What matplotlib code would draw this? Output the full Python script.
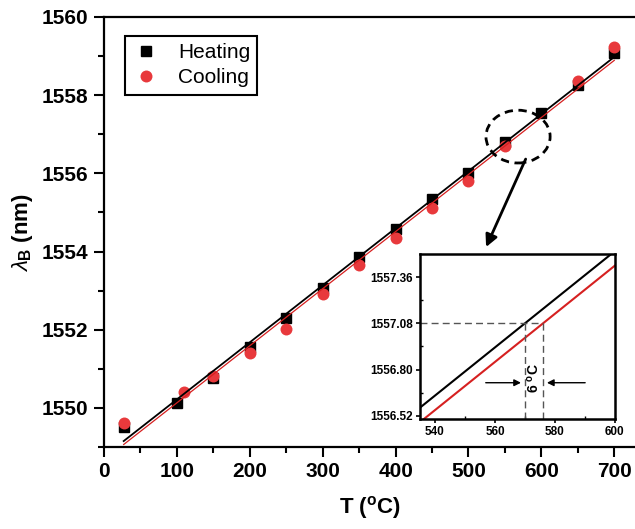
import matplotlib
matplotlib.use("Agg")
import matplotlib.pyplot as plt
import numpy as np
from matplotlib.patches import Ellipse
from matplotlib.ticker import MultipleLocator

plt.rcParams['font.family'] = ['Liberation Sans', 'DejaVu Sans']
plt.rcParams['mathtext.fontset'] = 'custom'
plt.rcParams['mathtext.rm'] = 'Liberation Sans'
plt.rcParams['mathtext.it'] = 'Liberation Sans:italic'
plt.rcParams['mathtext.bf'] = 'Liberation Sans:bold'

# Measured Bragg wavelength vs temperature
heat_T = [27, 100, 150, 200, 250, 300, 350, 400, 450, 500, 550, 600, 650, 700]
heat_wl = [1549.50, 1550.12, 1550.77, 1551.55, 1552.29, 1553.07, 1553.86,
           1554.57, 1555.35, 1556.00, 1556.79, 1557.55, 1558.26, 1559.09]
cool_T = [27, 110, 150, 200, 250, 300, 350, 400, 450, 500, 550, 650, 700]
cool_wl = [1549.62, 1550.40, 1550.81, 1551.40, 1552.02, 1552.92, 1553.66,
           1554.34, 1555.11, 1555.81, 1556.71, 1558.35, 1559.24]

# Linear fits (slope nm/degC, intercept nm)
fit_slope = 0.0146
heat_icpt = 1548.758
cool_icpt = 1548.670
fit_range = [27, 700]

# Inset markers
level_wl = 1557.08
heat_cross = 570.0
cool_cross = 576.0

RED = '#e8393c'
LRED = '#d62020'

fig = plt.figure(figsize=(6.35, 5.29), dpi=100)
ax = fig.add_axes([0.1638, 0.155, 0.838, 0.8129])

ax.plot(heat_T, heat_wl, 's', color='black', ms=7.2, label='Heating', zorder=3)
ax.plot(cool_T, cool_wl, 'o', color=RED, ms=8.6, mec='none', label='Cooling', zorder=3)

xf = np.array(fit_range, dtype=float)
ax.plot(xf, heat_icpt + fit_slope * xf, color='black', lw=1.3, zorder=4)
ax.plot(xf, cool_icpt + fit_slope * xf, color=LRED, lw=0.9, zorder=4)

ax.set_xlim(0, 730)
ax.set_ylim(1549, 1560)
ax.xaxis.set_major_locator(MultipleLocator(100))
ax.xaxis.set_minor_locator(MultipleLocator(50))
ax.yaxis.set_major_locator(MultipleLocator(2))
ax.yaxis.set_minor_locator(MultipleLocator(1))
ax.tick_params(which='major', direction='out', length=7, width=1.5,
               labelsize=15, pad=4)
ax.tick_params(which='minor', direction='out', length=4, width=1.5)
for lab in ax.get_xticklabels() + ax.get_yticklabels():
    lab.set_fontweight('bold')
for s in ax.spines.values():
    s.set_linewidth(1.6)

ax.set_xlabel(r'T ($\mathbf{^o}$C)', fontsize=16, fontweight='bold', labelpad=9)
ax.set_ylabel(r'$\lambda_\mathbf{B}$ (nm)', fontsize=16, fontweight='bold', labelpad=5)

leg = ax.legend(loc='upper left', bbox_to_anchor=(0.039, 0.956), borderaxespad=0,
                fancybox=False, edgecolor='black', fontsize=15, handletextpad=0.85,
                borderpad=0.35, labelspacing=0.3, handlelength=1.35, framealpha=1)
leg.get_frame().set_linewidth(1.5)

# Highlighted region and pointer to the zoomed view
ax.add_patch(Ellipse((568, 1556.94), 88, 1.35, fill=False, ls=(0, (3, 2)),
                     lw=2, color='black', zorder=5))
ax.annotate('', xy=(522.6, 1554.05), xytext=(580, 1556.43),
            arrowprops=dict(arrowstyle='-|>', color='black', lw=2,
                            mutation_scale=18), zorder=5)

# Inset
ins = fig.add_axes([0.6614, 0.2079, 0.307, 0.3119])
xi = np.array([535, 600], dtype=float)
ins.plot(xi, heat_icpt + fit_slope * xi, color='black', lw=1.5)
ins.plot(xi, cool_icpt + fit_slope * xi, color=LRED, lw=1.5)
ins.set_xlim(535, 600)
ins.set_ylim(1556.50, 1557.50)
ins.set_xticks([540, 560, 580, 600])
ins.set_yticks([1556.52, 1556.80, 1557.08, 1557.36])
ins.set_yticklabels(['1556.52', '1556.80', '1557.08', '1557.36'])
ins.xaxis.set_minor_locator(MultipleLocator(10))
ins.set_yticks([1556.66, 1556.94, 1557.22], minor=True)
ins.tick_params(which='major', direction='out', length=3, width=1.2,
                labelsize=8.5, pad=2)
ins.tick_params(which='minor', direction='in', length=2.5, width=1.0)
for lab in ins.get_xticklabels() + ins.get_yticklabels():
    lab.set_fontweight('bold')
for s in ins.spines.values():
    s.set_linewidth(1.8)

ins.plot([535, cool_cross], [level_wl, level_wl], color='#555555', lw=1, ls=(0, (5, 3)))
ins.plot([heat_cross, heat_cross], [1556.50, level_wl], color='#555555', lw=1, ls=(0, (5, 3)))
ins.plot([cool_cross, cool_cross], [1556.50, level_wl], color='#555555', lw=1, ls=(0, (5, 3)))
ins.annotate('', xy=(heat_cross - 0.4, 1556.72), xytext=(556, 1556.72),
             arrowprops=dict(arrowstyle='-|>', color='black', lw=1, mutation_scale=10))
ins.annotate('', xy=(cool_cross + 0.4, 1556.72), xytext=(591, 1556.72),
             arrowprops=dict(arrowstyle='-|>', color='black', lw=1, mutation_scale=10))
ins.text((heat_cross + cool_cross) / 2, 1556.75, r'6 $\mathbf{^o}$C', rotation=90,
         ha='center', va='center', fontsize=10, fontweight='bold')

fig.savefig('out.png', dpi=100)
